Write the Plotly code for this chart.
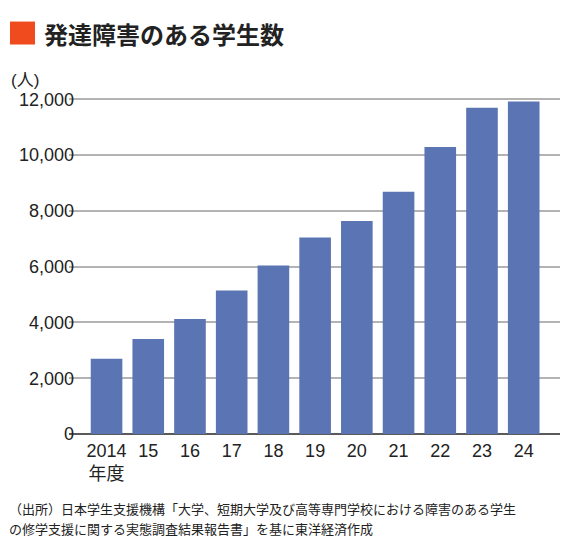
import plotly.graph_objects as go

years = ["2014<br>年度", "15", "16", "17", "18", "19", "20", "21", "22", "23", "24"]
students = [2700, 3410, 4120, 5150, 6040, 7050, 7640, 8690, 10290, 11700, 11920]
y_ticks = [0, 2000, 4000, 6000, 8000, 10000, 12000]
y_tick_labels = ["0", "2,000", "4,000", "6,000", "8,000", "10,000", "12,000"]

title_text = "発達障害のある学生数"
unit_text = "(人)"
source_lines = [
    "（出所）日本学生支援機構「大学、短期大学及び高等専門学校における障害のある学生",
    "の修学支援に関する実態調査結果報告書」を基に東洋経済作成",
]

# the page body has an 8px margin, so the figure is drawn 8px smaller
# and all page positions below are shifted by that offset
OFF = 8
W, H = 570 - OFF, 554 - OFF
PLOT_L, PLOT_R = 69 - OFF, 560 - OFF
PLOT_T, PLOT_B = 97.6 - OFF, 434.3 - OFF

latin = "Liberation Sans, Arial, Noto Sans CJK JP, sans-serif"
cjk = "Noto Sans CJK JP, sans-serif"


def px_x(px):
    return (px - OFF - PLOT_L) / (PLOT_R - PLOT_L)


def px_y(py):
    return (PLOT_B - (py - OFF)) / (PLOT_B - PLOT_T)


fig = go.Figure()
fig.add_trace(go.Bar(x=years, y=students,
                     marker=dict(color="#5a74b4", line=dict(width=0)),
                     hoverinfo="skip"))

# red square in front of the title
fig.add_shape(type="rect", xref="paper", yref="paper",
              x0=px_x(10), x1=px_x(35), y0=px_y(44), y1=px_y(21),
              fillcolor="#f04b1e", line=dict(width=0))

annotations = [
    dict(text=f"<b>{title_text}</b>", x=px_x(42), y=px_y(32.5),
         font=dict(family=cjk, size=24, color="#222222")),
    dict(text=unit_text, x=px_x(9), y=px_y(80),
         font=dict(family=latin, size=17, color="#222222")),
    dict(text=source_lines[0], x=px_x(7), y=px_y(509),
         font=dict(family=cjk, size=13, color="#222222")),
    dict(text=source_lines[1], x=px_x(7), y=px_y(529),
         font=dict(family=cjk, size=13, color="#222222")),
]
for a in annotations:
    fig.add_annotation(xref="paper", yref="paper", xanchor="left",
                       yanchor="middle", showarrow=False, **a)

fig.update_layout(
    width=W, height=H,
    margin=dict(l=PLOT_L, r=W - PLOT_R, t=PLOT_T, b=H - PLOT_B, pad=0),
    paper_bgcolor="white", plot_bgcolor="white",
    bargap=0.242,
    showlegend=False,
    font=dict(family=latin, size=18, color="#222222"),
)
fig.update_xaxes(type="category", range=[-0.9, 10.87], showgrid=False,
                 showline=False, ticks="", tickfont=dict(size=18),
                 ticklabelstandoff=4)
fig.update_yaxes(range=[0, 12050], tickvals=y_ticks, ticktext=y_tick_labels,
                 showgrid=True, gridcolor="#b3b3b3", gridwidth=1.5,
                 zeroline=True, zerolinecolor="#5a5a5a", zerolinewidth=2,
                 showline=False, ticks="", tickfont=dict(size=18),
                 ticklabelstandoff=-6)

fig.write_html("out.html")
